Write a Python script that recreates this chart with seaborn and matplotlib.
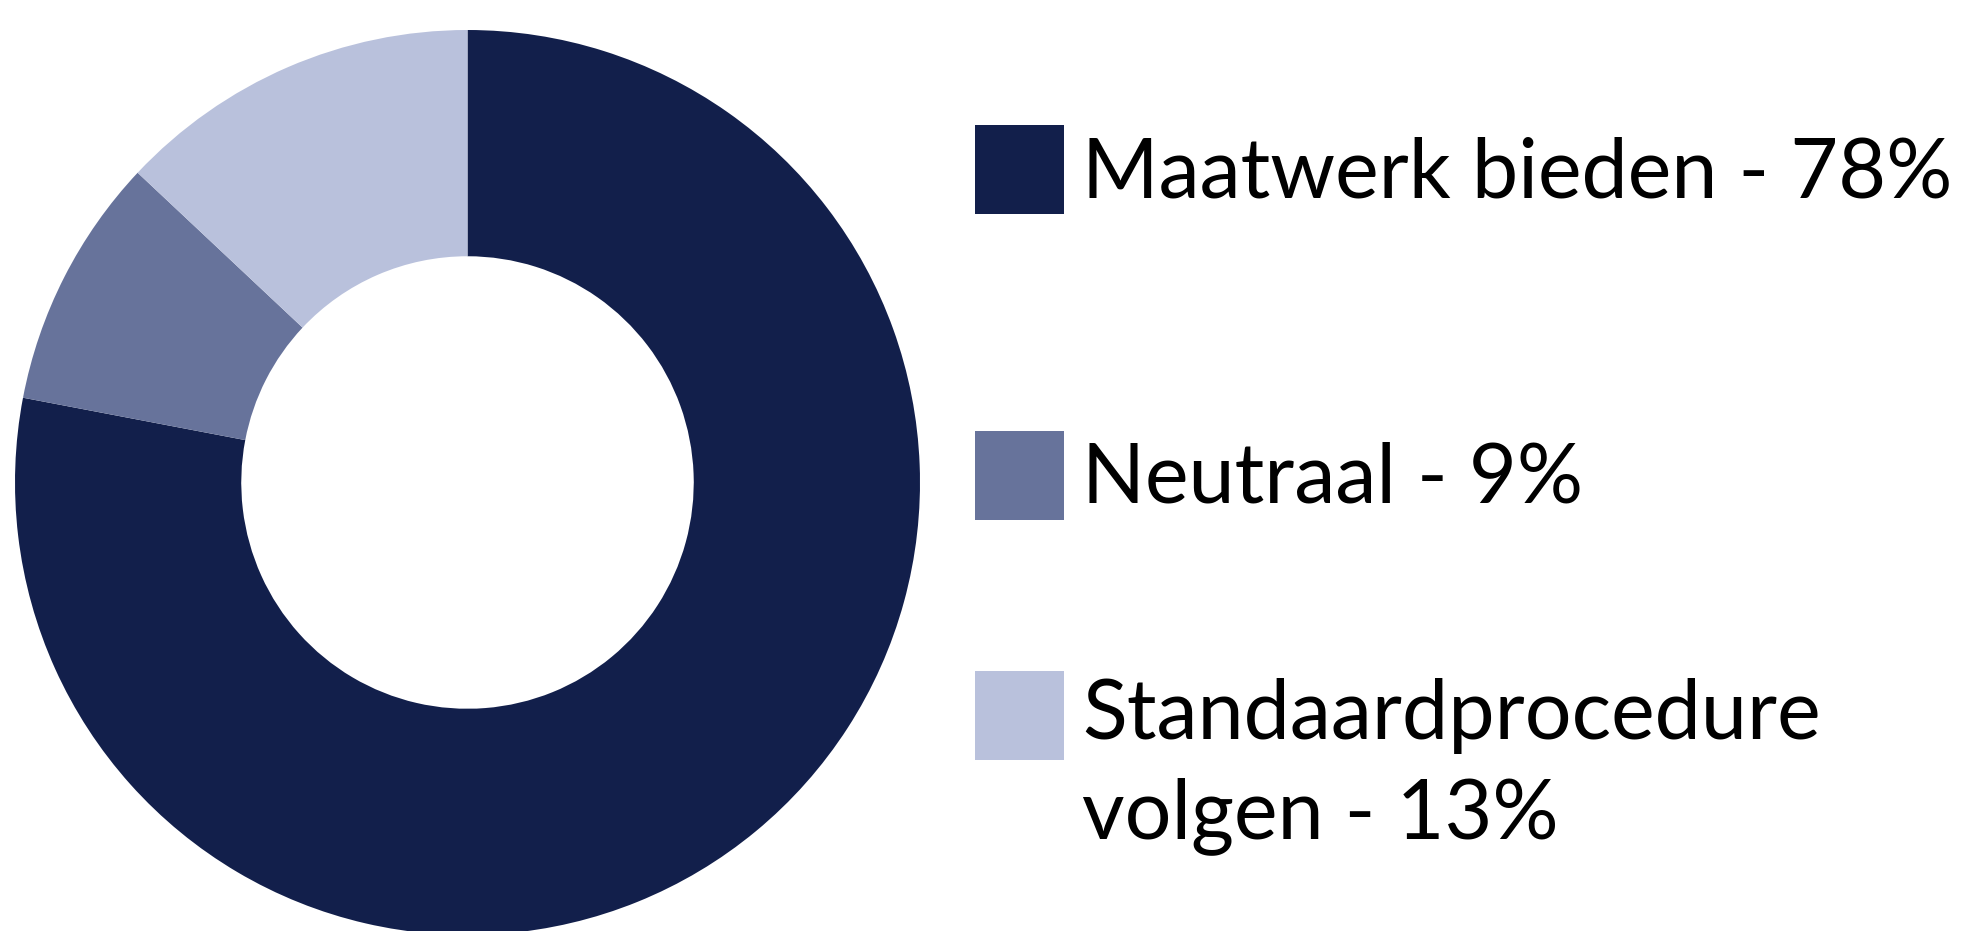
import matplotlib
matplotlib.use('Agg')
import matplotlib.pyplot as plt
import seaborn as sns
from matplotlib.patches import Rectangle

# data
categories = ['Maatwerk bieden', 'Neutraal', 'Standaardprocedure\nvolgen']
shares = [78, 9, 13]
colors = ['#121F4B', '#67739B', '#B9C1DC']

sns.set_theme(style='white')
plt.rcParams['font.family'] = ['Lato', 'DejaVu Sans']

W, H = 1961, 931
fig = plt.figure(figsize=(W / 100, H / 100), dpi=100)

# donut: centre and outer radius in pixels
cx, cy, r = 467.5, 482.5, 452.5
ax = fig.add_axes([(cx - r) / W, (H - cy - r) / H, 2 * r / W, 2 * r / H])
ax.pie(shares, colors=colors, startangle=90, counterclock=False, radius=1,
       wedgeprops=dict(width=0.5, linewidth=0))
ax.set_xlim(-1, 1)
ax.set_ylim(-1, 1)
ax.set_axis_off()

# legend on the right (square swatch + label)
labels = [f'{c} - {s}%' for c, s in zip(categories, shares)]
sq_left, sq_size = 975, 89
sq_tops = [125, 431, 671]
# baseline of the last line of each label (pixels from top)
baselines = [197.5, 502.5, 838]
text_x = 1082
for lab, col, top, base in zip(labels, colors, sq_tops, baselines):
    fig.patches.append(Rectangle((sq_left / W, 1 - (top + sq_size) / H),
                                 sq_size / W, sq_size / H,
                                 transform=fig.transFigure, color=col, lw=0))
    fig.text(text_x / W, 1 - base / H, lab, fontsize=59.5, va='baseline',
             ha='left', color='black', linespacing=1.38)

fig.savefig('out.png', dpi=100, facecolor='white')
plt.close(fig)
